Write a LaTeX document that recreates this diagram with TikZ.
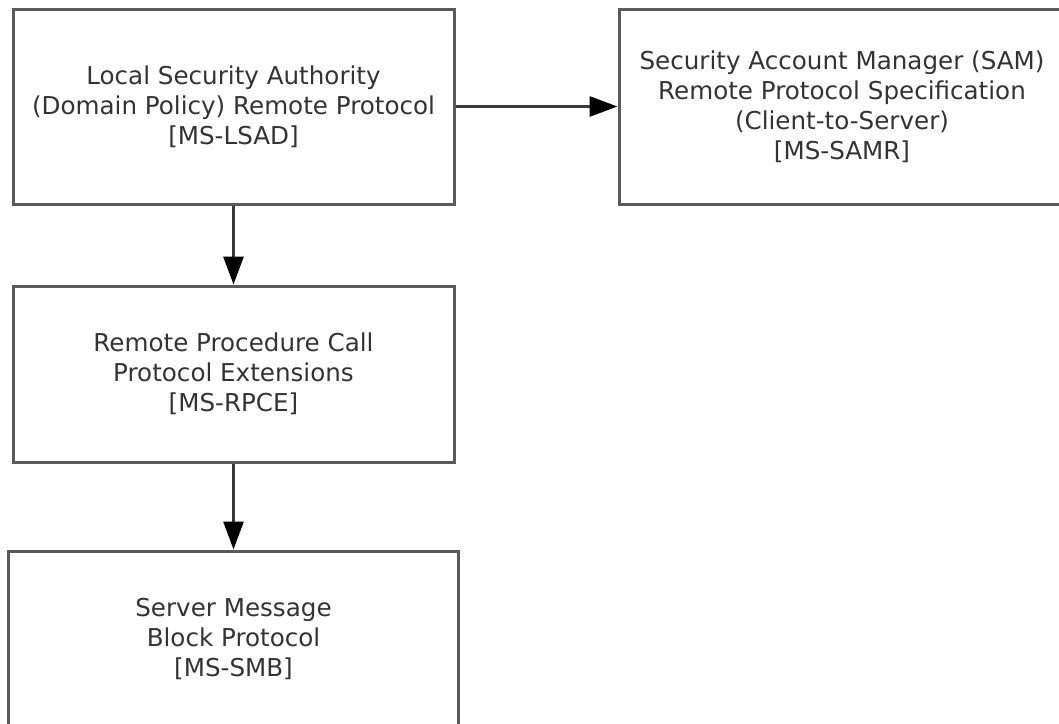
\documentclass[tikz,border=0pt]{standalone}
\usepackage{fontspec}
\setmainfont{DejaVu Sans}
\usetikzlibrary{arrows.meta}
\definecolor{boxgray}{HTML}{5A5A5A}
\definecolor{linegray}{HTML}{3A3A3A}
\definecolor{textgray}{HTML}{333333}
\begin{document}
\begin{tikzpicture}[x=1pt,y=-1pt,
  box/.style={draw=boxgray, line width=3pt, rectangle, align=center, text=textgray,
    font=\fontsize{24.6}{30}\selectfont, inner sep=0pt},
  conn/.style={draw=linegray, line width=3pt,
    -{Triangle[length=28pt,width=20pt,fill=black,color=black]}}]
\useasboundingbox (0,0) rectangle (1059,723);
\clip (0,0) rectangle (1059,723);
\node[box, minimum width=441pt, minimum height=195pt] (lsad) at (233.5,106.5)
  {Local Security Authority\\(Domain Policy) Remote Protocol\\{[MS-LSAD]}};
\node[box, minimum width=446pt, minimum height=195pt] (samr) at (842,106.5)
  {Security Account Manager (SAM)\\Remote Protocol Specification\\(Client-to-Server)\\{[MS-SAMR]}};
\node[box, minimum width=441pt, minimum height=176pt] (rpce) at (233.5,374)
  {Remote Procedure Call\\Protocol Extensions\\{[MS-RPCE]}};
\node[box, minimum width=450pt, minimum height=176pt] (smb) at (233.5,639)
  {Server Message\\Block Protocol\\{[MS-SMB]}};
\draw[conn] (lsad.east) -- (samr.west);
\draw[conn] (lsad.south) -- (rpce.north);
\draw[conn] (rpce.south) -- (smb.north);
\end{tikzpicture}
\end{document}
